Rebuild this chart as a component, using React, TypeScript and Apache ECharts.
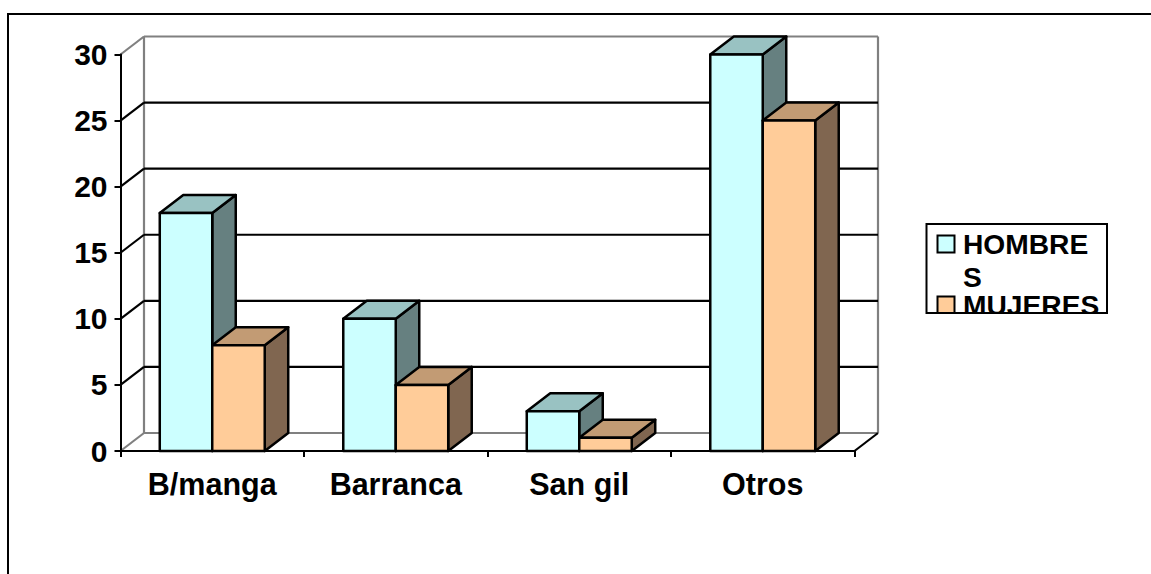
import React, { useEffect, useRef } from "react";
import * as echarts from "echarts";

const categories = ["B/manga", "Barranca", "San gil", "Otros"];
const hombres = [18, 10, 3, 30];
const mujeres = [8, 5, 1, 25];
const yTicks = [0, 5, 10, 15, 20, 25, 30];

const W = 1151;
const H = 574;
const DX = 23.5;
const DY = -18;
const BAR_RATIO = 0.286;
const FONT = "'Liberation Sans', Arial, sans-serif";
const GREY = "#808080";

function bar3d(fronts: [string, string, string], slot: number) {
  return (params: any, api: any) => {
    const i = api.value(0);
    const v = api.value(1);
    const band = api.size([1, 0])[0];
    const w = band * BAR_RATIO;
    const c = api.coord([i, v]);
    const b = api.coord([i, 0]);
    const x0 = c[0] + slot * w;
    const x1 = x0 + w;
    const yt = c[1];
    const yb = b[1];
    const style = (fill: string) => ({ fill, stroke: "#000", lineWidth: 2.5, lineJoin: "round" });
    return {
      type: "group",
      children: [
        {
          type: "polygon",
          shape: { points: [[x1, yt], [x1 + DX, yt + DY], [x1 + DX, yb + DY], [x1, yb]] },
          style: style(fronts[2]),
        },
        {
          type: "polygon",
          shape: { points: [[x0, yt], [x0 + DX, yt + DY], [x1 + DX, yt + DY], [x1, yt]] },
          style: style(fronts[1]),
        },
        { type: "rect", shape: { x: x0, y: yt, width: w, height: yb - yt }, style: style(fronts[0]) },
      ],
    };
  };
}

function wallItem(params: any, api: any) {
  const v = api.value(0);
  const left = api.coord([0, v]);
  const band = api.size([1, 0])[0];
  const x0 = left[0] - band / 2;
  const x1 = x0 + band * categories.length;
  const y = left[1];
  const edge = v === 0 || v === 30;
  const stroke = edge ? GREY : "#000";
  const children: any[] = [
    {
      type: "line",
      shape: { x1: x0, y1: y, x2: x0 + DX, y2: y + DY },
      style: { stroke, lineWidth: 2.2 },
    },
    {
      type: "line",
      shape: { x1: x0 + DX, y1: y + DY, x2: x1 + DX, y2: y + DY },
      style: { stroke, lineWidth: 2.2 },
    },
  ];
  if (v === 0) {
    const top = api.coord([0, 30])[1];
    children.push(
      { type: "line", shape: { x1: x0 + DX, y1: y + DY, x2: x0 + DX, y2: top + DY }, style: { stroke: GREY, lineWidth: 2.2 } },
      { type: "line", shape: { x1: x1 + DX, y1: y + DY, x2: x1 + DX, y2: top + DY }, style: { stroke: GREY, lineWidth: 2.2 } },
      { type: "line", shape: { x1: x1, y1: y, x2: x1 + DX, y2: y + DY }, style: { stroke: "#000", lineWidth: 2.2 } }
    );
  }
  return { type: "group", children };
}

export default function App() {
  const ref = useRef<HTMLDivElement>(null);
  useEffect(() => {
    if (!ref.current) return;
    const chart = echarts.init(ref.current, undefined, { renderer: "svg", width: W, height: H });
    const lbl = { color: "#000", fontFamily: FONT, fontWeight: "bold" as const };
    const legendFont = `bold 28.2px ${FONT}`;
    chart.setOption({
      animation: false,
      backgroundColor: "#fff",
      grid: { left: 120.5, right: W - 854.5, top: 54.5, bottom: H - 451, containLabel: false },
      xAxis: {
        type: "category",
        data: categories,
        axisLine: { lineStyle: { color: "#000", width: 2 } },
        axisTick: { show: true, length: 6, lineStyle: { color: "#000", width: 2 } },
        axisLabel: { ...lbl, fontSize: 30.5, margin: 17, interval: 0 },
        splitLine: { show: false },
        z: 1,
      },
      yAxis: {
        type: "value",
        min: 0,
        max: 30,
        interval: 5,
        axisLine: { show: true, lineStyle: { color: "#000", width: 2 } },
        axisTick: { show: true, length: 6, lineStyle: { color: "#000", width: 2 } },
        axisLabel: { ...lbl, fontSize: 30, margin: 13 },
        splitLine: { show: false },
      },
      series: [
        {
          type: "custom",
          name: "walls",
          coordinateSystem: "cartesian2d",
          renderItem: wallItem,
          data: yTicks.map((v) => [v]),
          encode: { y: 0 },
          silent: true,
          z: 0,
        },
        {
          type: "custom",
          name: "HOMBRES",
          renderItem: bar3d(["#CCFFFF", "#99C2C2", "#668080"], -1),
          data: hombres.map((v, i) => [i, v]),
          encode: { x: 0, y: 1 },
          z: 3,
        },
        {
          type: "custom",
          name: "MUJERES",
          renderItem: bar3d(["#FFCC99", "#C29B74", "#806650"], 0),
          data: mujeres.map((v, i) => [i, v]),
          encode: { x: 0, y: 1 },
          z: 4,
        },
      ],
      graphic: [
        { type: "line", z: 20, shape: { x1: 8, y1: 14, x2: W, y2: 14 }, style: { stroke: "#000", lineWidth: 2 } },
        { type: "line", z: 20, shape: { x1: 8, y1: 13, x2: 8, y2: H }, style: { stroke: "#000", lineWidth: 2 } },
        { type: "rect", z: 20, shape: { x: 927, y: 224, width: 180, height: 89 }, style: { fill: "#fff" } },
        { type: "rect", z: 21, shape: { x: 937.5, y: 235.5, width: 17, height: 17 }, style: { fill: "#CCFFFF", stroke: "#000", lineWidth: 2 } },
        { type: "rect", z: 21, shape: { x: 937.5, y: 296.5, width: 17, height: 20 }, style: { fill: "#FFCC99", stroke: "#000", lineWidth: 2 } },
        { type: "text", z: 21, x: 963, y: 244, style: { text: "HOMBRE", fill: "#000", font: legendFont, verticalAlign: "middle" } },
        { type: "text", z: 21, x: 963, y: 277, style: { text: "S", fill: "#000", font: legendFont, verticalAlign: "middle" } },
        { type: "text", z: 21, x: 963, y: 305, style: { text: "MUJERES", fill: "#000", font: legendFont, verticalAlign: "middle" } },
        { type: "rect", z: 22, shape: { x: 920, y: 314, width: 195, height: 16 }, style: { fill: "#fff" } },
        { type: "rect", z: 23, shape: { x: 926.5, y: 224, width: 180.5, height: 89 }, style: { fill: "none", stroke: "#000", lineWidth: 2 } },
      ],
    });
    return () => chart.dispose();
  }, []);
  return <div ref={ref} style={{ position: "absolute", left: 0, top: 0, width: W, height: H }} />;
}
